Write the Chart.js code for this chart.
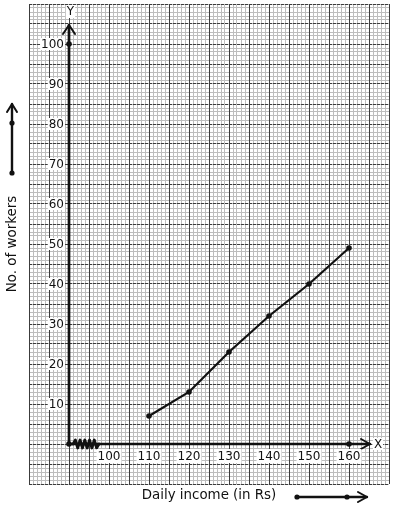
<!DOCTYPE html>
<html><head><meta charset="utf-8">
<script src="https://cdn.jsdelivr.net/npm/chart.js@4.4.1/dist/chart.umd.min.js"></script>
<style>html,body{margin:0;padding:0;background:#fff;}#wrap{width:394px;height:510px;}</style>
</head><body><div id="wrap"><canvas id="c" width="394" height="510"></canvas></div>
<script>
// Data
const incomes = [110, 120, 130, 140, 150, 160];
const workers = [7, 13, 23, 32, 40, 49];
const xTickLabels = [100, 110, 120, 130, 140, 150, 160];
const yTickLabels = [10, 20, 30, 40, 50, 60, 70, 80, 90, 100];
const markedPoints = [{x: 90, y: 0}, {x: 90, y: 100}, {x: 160, y: 0}];
const xRange = [80, 170];
const yRange = [-10, 110];
const origin = {x: 90, y: 0};
const xAxisEnd = 165.25;
const yAxisEnd = 104.75;
const xLabel = 'Daily income (in Rs)';
const yLabel = 'No. of workers';

const FONT = '"DejaVu Sans", sans-serif';
const INK = '#111';

const decor = {
  id: 'decor',
  afterDatasetsDraw(chart) {
    const ctx = chart.ctx;
    const xs = chart.scales.x, ys = chart.scales.y;
    const ox = xs.getPixelForValue(origin.x), oy = ys.getPixelForValue(origin.y);
    ctx.save();
    ctx.strokeStyle = INK; ctx.fillStyle = INK; ctx.lineCap = 'round'; ctx.lineJoin = 'round';
    // Y axis
    const yTop = ys.getPixelForValue(yAxisEnd);
    ctx.lineWidth = 2.7;
    ctx.beginPath(); ctx.moveTo(ox, oy); ctx.lineTo(ox, yTop); ctx.stroke();
    ctx.lineWidth = 2;
    ctx.beginPath(); ctx.moveTo(ox - 6, yTop + 9); ctx.lineTo(ox, yTop); ctx.lineTo(ox + 6, yTop + 9); ctx.stroke();
    // X axis
    const xEnd = xs.getPixelForValue(xAxisEnd);
    ctx.lineWidth = 2.7;
    ctx.beginPath(); ctx.moveTo(ox, oy); ctx.lineTo(xEnd, oy); ctx.stroke();
    ctx.lineWidth = 2;
    ctx.beginPath(); ctx.moveTo(xEnd - 9, oy - 5); ctx.lineTo(xEnd, oy); ctx.lineTo(xEnd - 9, oy + 5); ctx.stroke();
    // zigzag (axis break)
    const zx0 = ox + 4, zx1 = xs.getPixelForValue(97.5);
    const n = 10;
    ctx.lineWidth = 2.8;
    ctx.beginPath(); ctx.moveTo(zx0, oy);
    for (let i = 1; i <= n; i++) {
      const px = zx0 + (zx1 - zx0) * i / (n + 1);
      ctx.lineTo(px, oy + (i % 2 ? -4 : 4));
    }
    ctx.lineTo(zx1, oy); ctx.stroke();

    // tick labels
    ctx.font = '12px ' + FONT;
    ctx.textBaseline = 'middle';
    ctx.textAlign = 'center';
    xTickLabels.forEach(v => {
      const px = xs.getPixelForValue(v), py = oy + 12;
      const w = ctx.measureText(String(v)).width;
      ctx.fillStyle = '#fff'; ctx.fillRect(px - w / 2 - 1, py - 7, w + 2, 14);
      ctx.fillStyle = INK; ctx.fillText(String(v), px, py + 0.5);
    });
    ctx.textAlign = 'right';
    yTickLabels.forEach(v => {
      const py = ys.getPixelForValue(v), px = ox - 5;
      const w = ctx.measureText(String(v)).width;
      ctx.fillStyle = '#fff'; ctx.fillRect(px - w - 1, py - 6, w + 2, 12);
      ctx.fillStyle = INK; ctx.fillText(String(v), px, py + 0.5);
    });
    // axis letters
    ctx.textAlign = 'center';
    let w = ctx.measureText('Y').width;
    ctx.fillStyle = '#fff'; ctx.fillRect(ox + 1.5 - w / 2 - 1, 5, w + 2, 13);
    ctx.fillStyle = INK; ctx.fillText('Y', ox + 1.5, 12);
    w = ctx.measureText('X').width;
    ctx.fillStyle = '#fff'; ctx.fillRect(xEnd + 8 - w / 2 - 1, oy - 6, w + 2, 12);
    ctx.fillStyle = INK; ctx.fillText('X', xEnd + 8, oy + 0.5);

    // axis titles
    ctx.font = '13.4px ' + FONT;
    ctx.fillStyle = INK;
    ctx.fillText(xLabel, 209, 496);
    ctx.save();
    ctx.translate(13, 244); ctx.rotate(-Math.PI / 2);
    ctx.fillText(yLabel, 0, 0);
    ctx.restore();

    // direction arrows
    ctx.lineWidth = 2.4;
    ctx.beginPath(); ctx.moveTo(12, 173); ctx.lineTo(12, 104); ctx.stroke();
    ctx.lineWidth = 2;
    ctx.beginPath(); ctx.moveTo(7, 112); ctx.lineTo(12, 104); ctx.lineTo(17, 112); ctx.stroke();
    [173, 123].forEach(y => { ctx.beginPath(); ctx.arc(12, y, 2.6, 0, Math.PI * 2); ctx.fill(); });
    ctx.lineWidth = 2.4;
    ctx.beginPath(); ctx.moveTo(297, 497); ctx.lineTo(367, 497); ctx.stroke();
    ctx.lineWidth = 2;
    ctx.beginPath(); ctx.moveTo(358, 492); ctx.lineTo(367, 497); ctx.lineTo(358, 502); ctx.stroke();
    [297, 347].forEach(x => { ctx.beginPath(); ctx.arc(x, 497, 2.6, 0, Math.PI * 2); ctx.fill(); });
    ctx.restore();
  },
  afterDraw(chart) {
    const ctx = chart.ctx;
    const xs = chart.scales.x, ys = chart.scales.y;
    ctx.save(); ctx.fillStyle = INK;
    markedPoints.forEach(p => {
      ctx.beginPath(); ctx.arc(xs.getPixelForValue(p.x), ys.getPixelForValue(p.y), 2.8, 0, Math.PI * 2); ctx.fill();
    });
    ctx.restore();
  }
};

const minorGrid = {color: '#bdbdbd', lineWidth: 1, drawTicks: false, z: -2};

new Chart(document.getElementById('c'), {
  type: 'line',
  data: {
    datasets: [{
      data: incomes.map((x, i) => ({x, y: workers[i]})),
      borderColor: INK, backgroundColor: INK, borderWidth: 2.2,
      pointRadius: 2.8, pointBackgroundColor: INK, pointBorderWidth: 0,
      tension: 0, fill: false
    }]
  },
  options: {
    responsive: false, animation: false, devicePixelRatio: 1,
    layout: {padding: {left: 29, top: 4, right: 5, bottom: 26}},
    plugins: {legend: {display: false}, tooltip: {enabled: false}},
    scales: {
      x: {type: 'linear', min: xRange[0], max: xRange[1], ticks: {display: false, stepSize: 1}, grid: minorGrid, border: {display: false}},
      y: {type: 'linear', min: yRange[0], max: yRange[1], ticks: {display: false, stepSize: 1}, grid: minorGrid, border: {display: false}},
      x2: {type: 'linear', axis: 'x', position: 'bottom', min: xRange[0], max: xRange[1], ticks: {display: false, stepSize: 5}, grid: {color: '#3c3c3c', lineWidth: 1, drawTicks: false, z: -1}, border: {display: false}},
      y2: {type: 'linear', axis: 'y', position: 'left', min: yRange[0], max: yRange[1], ticks: {display: false, stepSize: 5}, grid: {color: '#3c3c3c', lineWidth: 1, drawTicks: false, z: -1, borderDash: [3, 1]}, border: {display: false, dash: [3, 1]}}
    }
  },
  plugins: [decor]
});
</script>
</body></html>
